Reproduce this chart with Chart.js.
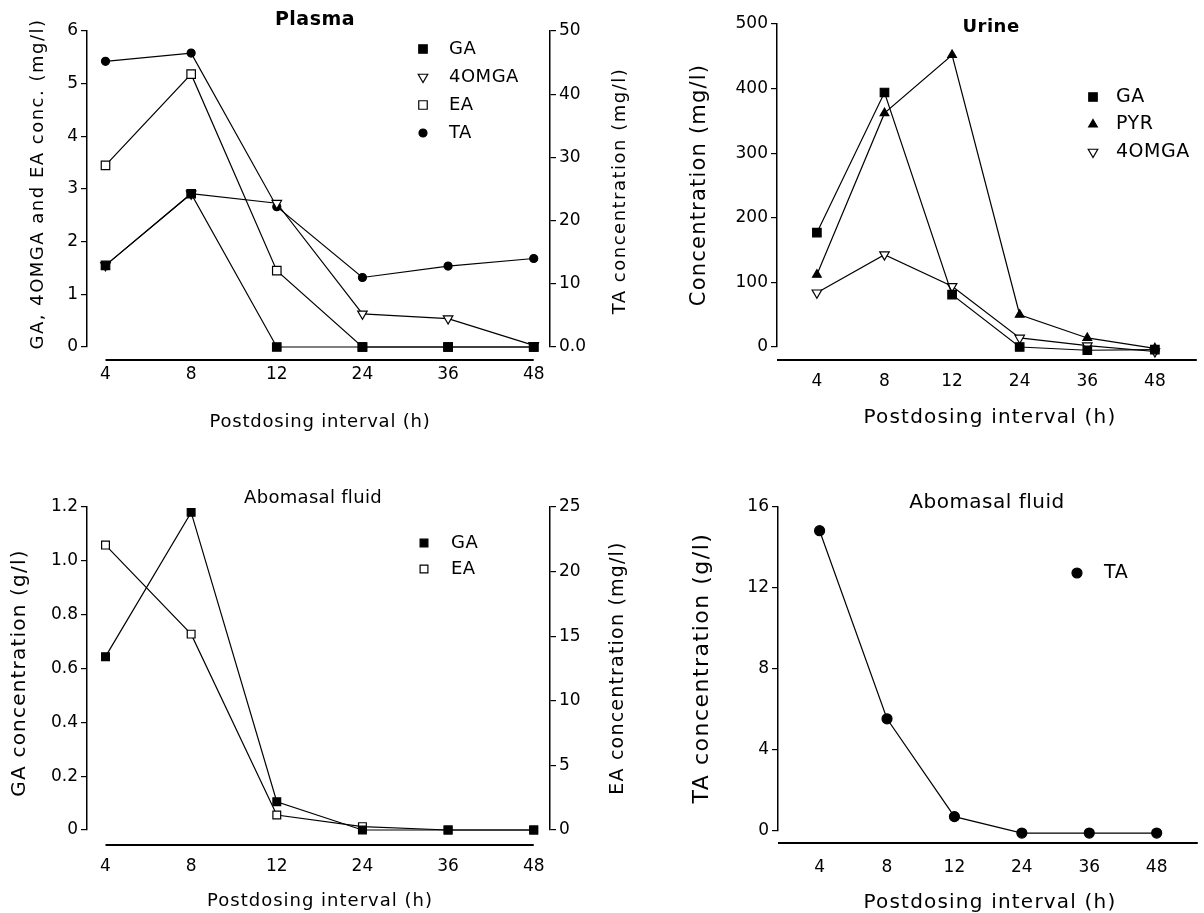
<!DOCTYPE html>
<html>
<head>
<meta charset="utf-8">
<script src="https://cdn.jsdelivr.net/npm/chart.js@4.4.1/dist/chart.umd.min.js"></script>
<style>
  html, body { margin: 0; padding: 0; background: #fff; }
  #wrap { position: relative; width: 1204px; height: 913px; }
  #wrap canvas { position: absolute; left: 0; top: 0; }
</style>
</head>
<body>
<div id="wrap">
  <canvas id="plasma" width="1204" height="913"></canvas>
  <canvas id="urine" width="1204" height="913"></canvas>
  <canvas id="aboGA" width="1204" height="913"></canvas>
  <canvas id="aboTA" width="1204" height="913"></canvas>
</div>
<script>
// postdosing intervals (h), shown as evenly spaced categories
const hours = ['4', '8', '12', '24', '36', '48'];

// Plasma, mg/l (GA, 4OMGA, EA on left axis, TA on right axis)
const plasmaGA = [1.55, 2.91, 0, 0, 0, 0];
const plasma4OMGA = [1.55, 2.91, 2.73, 0.63, 0.54, 0.03];
const plasmaEA = [3.45, 5.18, 1.45, 0, 0, 0];
const plasmaTA = [45.2, 46.5, 22.2, 11.0, 12.8, 14.0];

// Urine, mg/l
const urineGA = [177, 394, 81, 0, -5, -4];
const urinePYR = [112, 362, 452, 50, 14, -2];
const urine4OMGA = [84, 143, 94, 14, 2, -7];

// Abomasal fluid: GA in g/l (left), EA in mg/l (right)
const aboGA = [0.644, 1.18, 0.105, 0, 0, 0];
const aboEA = [22.05, 15.16, 1.16, 0.26, 0, 0];

// Abomasal fluid: TA in g/l
const aboTA = [14.83, 5.54, 0.71, -0.1, -0.1, -0.1];

Chart.defaults.font.family = "'DejaVu Sans', sans-serif";
Chart.defaults.color = '#000';

const toXY = arr => arr.map((v, i) => ({ x: i, y: v }));

function series(label, values, style) {
  return Object.assign({
    label: label,
    data: toXY(values),
    borderColor: '#000',
    borderWidth: 1.2,
    tension: 0,
    pointBorderColor: '#000',
    pointBorderWidth: 1.2,
    clip: false
  }, style);
}

const filledSquare = { pointStyle: 'rect', pointRadius: 6, pointBackgroundColor: '#000' };
const openSquare = { pointStyle: 'rect', pointRadius: 6, pointBackgroundColor: '#fff' };
const downTri = { pointStyle: 'triangle', pointRadius: 5.5, pointRotation: 180, pointBackgroundColor: '#fff' };
const upTri = { pointStyle: 'triangle', pointRadius: 5, pointBackgroundColor: '#000' };
const dot = { pointStyle: 'circle', pointRadius: 4, pointBackgroundColor: '#000' };

function drawText(ctx, t) {
  ctx.save();
  ctx.font = t.font;
  if ('letterSpacing' in ctx) ctx.letterSpacing = (t.sp || 0) + 'px';
  ctx.fillStyle = '#000';
  ctx.textAlign = t.align || 'center';
  ctx.textBaseline = 'middle';
  ctx.translate(t.x, t.y);
  if (t.rot) ctx.rotate(-Math.PI / 2);
  ctx.fillText(t.text, 0, 0);
  ctx.restore();
}

// titles, detached x axis line, legend
const decor = {
  id: 'decor',
  afterDraw(chart, args, o) {
    const ctx = chart.ctx;
    const xs = chart.scales.x;
    const y = chart.chartArea.bottom + o.xLine.gap;
    ctx.save();
    ctx.strokeStyle = '#000';
    ctx.lineWidth = 2;
    ctx.beginPath();
    ctx.moveTo(xs.getPixelForValue(o.xLine.from), y);
    ctx.lineTo(xs.getPixelForValue(o.xLine.to), y);
    ctx.stroke();
    ctx.restore();

    o.texts.forEach(t => drawText(ctx, t));

    const lg = o.legend;
    chart.data.datasets.forEach((ds, i) => {
      const ly = lg.y + i * lg.gap;
      ctx.save();
      ctx.fillStyle = ds.pointBackgroundColor;
      ctx.strokeStyle = '#000';
      ctx.lineWidth = 1.2;
      Chart.helpers.drawPoint(ctx, {
        pointStyle: ds.pointStyle,
        radius: ds.pointRadius,
        rotation: ds.pointRotation || 0,
        borderWidth: 1.2
      }, lg.x, ly);
      ctx.restore();
      drawText(ctx, { text: ds.label, x: lg.labelX, y: ly, font: lg.font, align: 'left', sp: 0.5 });
    });
  }
};

function yAxis(pos, min, max, step, fmt) {
  return {
    type: 'linear',
    position: pos,
    min: min,
    max: max,
    afterFit: s => { s.width = 60; },
    ticks: { stepSize: step, padding: 3, font: { size: 17 }, color: '#000', callback: fmt },
    grid: { drawOnChartArea: false, drawTicks: true, tickLength: 6, color: '#000', lineWidth: 1.2 },
    border: { display: true, color: '#000', width: 1.5 }
  };
}

function panel(id, p) {
  const scales = {
    x: {
      type: 'linear',
      min: p.xMin,
      max: p.xMax,
      afterBuildTicks: s => { s.ticks = hours.map((h, i) => ({ value: i })); },
      afterFit: s => { s.height = 80; },
      grid: { display: false, drawTicks: false },
      border: { display: false },
      ticks: { padding: p.xPad, font: { size: 17 }, color: '#000', callback: v => hours[v] }
    },
    y: p.yLeft
  };
  if (p.yRight) scales.y2 = p.yRight;

  new Chart(document.getElementById(id), {
    type: 'line',
    data: { datasets: p.datasets },
    options: {
      responsive: false,
      animation: false,
      devicePixelRatio: 1,
      layout: {
        padding: {
          left: p.area.left - 60,
          right: 1204 - p.area.right - (p.yRight ? 60 : 0),
          top: p.area.top,
          bottom: 913 - p.area.bottom - 80
        }
      },
      scales: scales,
      plugins: {
        legend: { display: false },
        tooltip: { enabled: false },
        decor: p.decor
      }
    },
    plugins: [decor]
  });
}

const intFmt = v => v;

panel('plasma', {
  area: { left: 87, right: 550, top: 31, bottom: 347 },
  xMin: -0.216, xMax: 5.19, xPad: 17,
  yLeft: yAxis('left', 0, 6, 1, intFmt),
  yRight: yAxis('right', 0, 50, 10, v => (v === 0 ? '0.0' : v)),
  datasets: [
    series('GA', plasmaGA, filledSquare),
    series('4OMGA', plasma4OMGA, downTri),
    series('EA', plasmaEA, openSquare),
    series('TA', plasmaTA, Object.assign({ yAxisID: 'y2' }, dot))
  ],
  decor: {
    xLine: { from: 0, to: 5, gap: 13 },
    legend: { x: 423, labelX: 449, y: 49, gap: 28, font: '18px "DejaVu Sans"' },
    texts: [
      { text: 'Plasma', x: 315, y: 20, font: 'bold 19px "DejaVu Sans"', sp: 0.5 },
      { text: 'Postdosing interval (h)', x: 320, y: 422, font: '18px "DejaVu Sans"', sp: 0.8 },
      { text: 'GA, 4OMGA and EA conc. (mg/l)', x: 38, y: 184, rot: true, font: '18px "DejaVu Sans"', sp: 1.5 },
      { text: 'TA concentration (mg/l)', x: 620, y: 191, rot: true, font: '18px "DejaVu Sans"', sp: 1.5 }
    ]
  }
});

panel('urine', {
  area: { left: 777, right: 1204, top: 24, bottom: 347 },
  xMin: -0.59, xMax: 5.62, xPad: 24,
  yLeft: yAxis('left', 0, 500, 100, intFmt),
  datasets: [
    series('GA', urineGA, filledSquare),
    series('PYR', urinePYR, upTri),
    series('4OMGA', urine4OMGA, downTri)
  ],
  decor: {
    xLine: { from: -0.59, to: 5.62, gap: 13 },
    legend: { x: 1093, labelX: 1116, y: 97, gap: 27.5, font: '19px "DejaVu Sans"' },
    texts: [
      { text: 'Urine', x: 991, y: 27, font: 'bold 18px "DejaVu Sans"', sp: 0.5 },
      { text: 'Postdosing interval (h)', x: 990, y: 418, font: '20px "DejaVu Sans"', sp: 1.2 },
      { text: 'Concentration (mg/l)', x: 700, y: 185, rot: true, font: '21px "DejaVu Sans"', sp: 1.2 }
    ]
  }
});

panel('aboGA', {
  area: { left: 87, right: 550, top: 507, bottom: 830 },
  xMin: -0.216, xMax: 5.19, xPad: 26,
  yLeft: yAxis('left', 0, 1.2, 0.2, v => (v === 0 ? '0' : v.toFixed(1))),
  yRight: yAxis('right', 0, 25, 5, intFmt),
  datasets: [
    series('GA', aboGA, Object.assign({}, filledSquare, { pointRadius: 5.5 })),
    series('EA', aboEA, Object.assign({ yAxisID: 'y2' }, openSquare, { pointRadius: 5.5 }))
  ],
  decor: {
    xLine: { from: 0, to: 5, gap: 15 },
    legend: { x: 424, labelX: 451, y: 543, gap: 26, font: '18px "DejaVu Sans"' },
    texts: [
      { text: 'Abomasal fluid', x: 313, y: 498, font: '18px "DejaVu Sans"', sp: 0.3 },
      { text: 'Postdosing interval (h)', x: 320, y: 901, font: '18px "DejaVu Sans"', sp: 1 },
      { text: 'GA concentration (g/l)', x: 20, y: 673, rot: true, font: '20px "DejaVu Sans"', sp: 1.2 },
      { text: 'EA concentration (mg/l)', x: 618, y: 668, rot: true, font: '19px "DejaVu Sans"', sp: 1.2 }
    ]
  }
});

panel('aboTA', {
  area: { left: 778, right: 1204, top: 507, bottom: 831 },
  xMin: -0.617, xMax: 5.61, xPad: 26,
  yLeft: yAxis('left', 0, 16, 4, intFmt),
  datasets: [
    series('TA', aboTA, Object.assign({}, dot, { pointRadius: 5 }))
  ],
  decor: {
    xLine: { from: -0.617, to: 5.61, gap: 12 },
    legend: { x: 1077, labelX: 1104, y: 573, gap: 26, font: '19px "DejaVu Sans"' },
    texts: [
      { text: 'Abomasal fluid', x: 987, y: 503, font: '20px "DejaVu Sans"', sp: 0.5 },
      { text: 'Postdosing interval (h)', x: 990, y: 903, font: '20px "DejaVu Sans"', sp: 1.2 },
      { text: 'TA concentration (g/l)', x: 702, y: 668, rot: true, font: '22px "DejaVu Sans"', sp: 1.5 }
    ]
  }
});
</script>
</body>
</html>
